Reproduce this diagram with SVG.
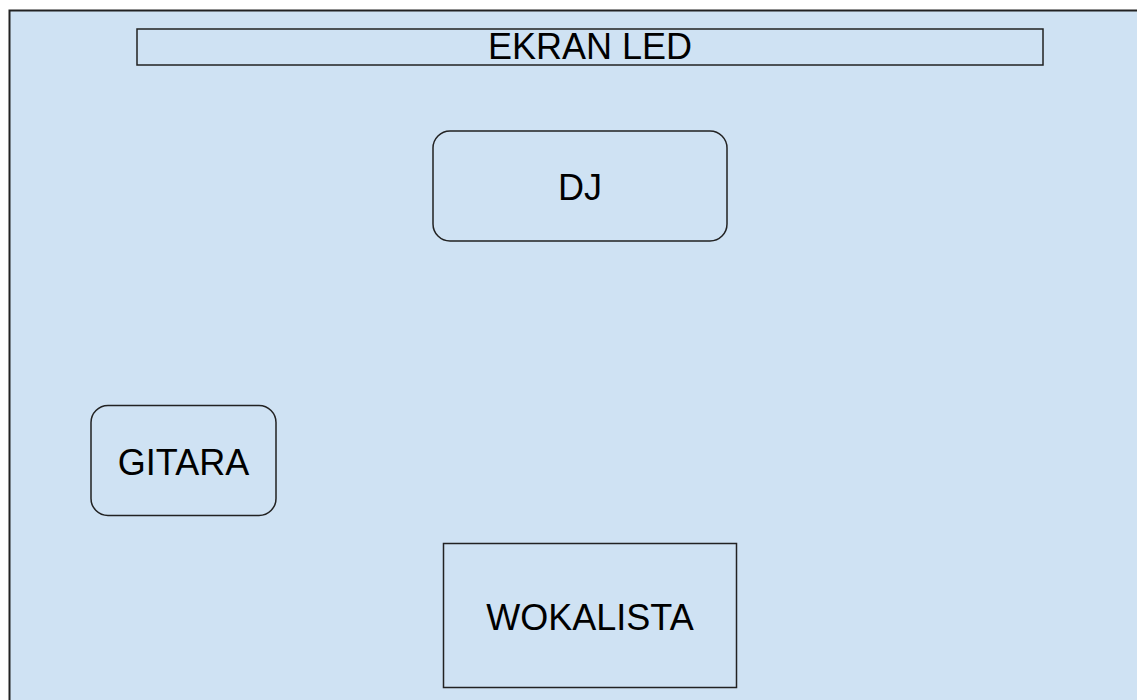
<svg xmlns="http://www.w3.org/2000/svg" width="1137" height="700" viewBox="0 0 1137 700">
<style>
.shape{fill:#cfe2f3;stroke:#222;stroke-width:1.5}
.lbl{font-family:"Liberation Sans",Arial,sans-serif;font-size:36px;fill:#000;text-anchor:middle}
</style>
<rect width="1137" height="700" fill="#ffffff"/>
<g id="stage">
<rect x="9.5" y="10.5" width="1140" height="700" fill="#cfe2f3" stroke="#222" stroke-width="2"/>
</g>
<g id="ekran">
<rect class="shape" x="137" y="29" width="906" height="36"/>
<text class="lbl" x="590" y="59">EKRAN LED</text>
</g>
<g id="dj">
<rect class="shape" x="433" y="131" width="294" height="110" rx="17" ry="17"/>
<text class="lbl" x="580" y="200">DJ</text>
</g>
<g id="gitara">
<rect class="shape" x="91" y="405.5" width="185" height="110" rx="17" ry="17"/>
<text class="lbl" x="183.5" y="475">GITARA</text>
</g>
<g id="wokalista">
<rect class="shape" x="443.5" y="543.5" width="293" height="144"/>
<text class="lbl" x="590" y="630">WOKALISTA</text>
</g>
<g id="connectors"/>
</svg>
